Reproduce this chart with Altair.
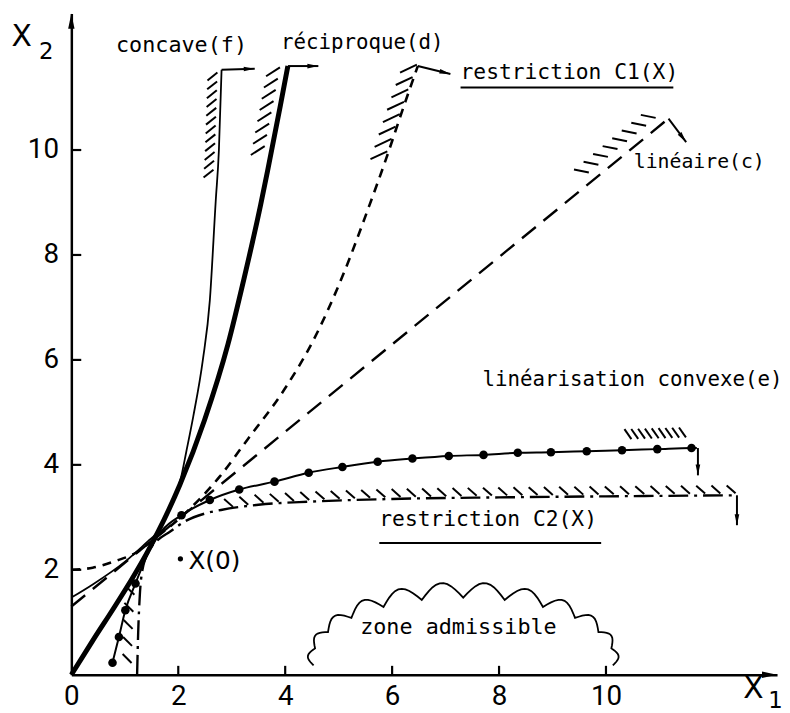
import altair as alt
import numpy as np
import pandas as pd

# ---------------- axes ----------------
x_ticks = [0, 2, 4, 6, 8, 10]
y_ticks = [2, 4, 6, 8, 10]
X_MAX, Y_MAX = 13.2, 12.6
W, H = 713, 668
PX, PY = W / X_MAX, H / Y_MAX
FONT = "DejaVu Sans"
MONO = "DejaVu Sans Mono"
TICKFONT = "Roboto"

# ---------------- curves ----------------
# concave (f) : thin solid
f_x = [0, 0.40, 1.01, 1.44, 1.57, 1.85, 2.05, 2.15, 2.28, 2.46, 2.59, 2.70, 2.76, 2.81]
f_y = [1.47, 1.72, 2.16, 2.55, 2.67, 3.2, 3.75, 4.25, 4.92, 6.0, 7.13, 9.02, 10.0, 11.53]
# réciproque (d) : thick solid
d_x = [0, 0.4, 0.83, 1.13, 1.44, 1.63, 2.03, 2.49, 2.93, 3.23, 3.54, 3.67, 3.91, 4.05]
d_y = [0, 0.65, 1.33, 1.82, 2.37, 2.74, 3.62, 4.85, 6.3, 7.55, 8.95, 9.6, 10.85, 11.6]
# restriction C1(X) : short dashes
c1_x = [0, 0.4, 0.83, 1.2, 1.5, 2.1, 2.77, 3.3, 3.98, 4.53, 5.09, 5.58, 5.89, 6.2, 6.48]
c1_y = [2.0, 2.04, 2.17, 2.32, 2.55, 3.05, 3.77, 4.49, 5.43, 6.38, 7.64, 8.96, 9.84, 10.78, 11.6]
# linéaire (c) : long dashes
c_x = [0, 11.17]
c_y = [1.3, 10.6]
# linéarisation convexe (e) : solid with dots
e_x = [0.77, 0.89, 1.01, 1.2, 1.45, 1.7, 2.06, 2.59, 3.14, 3.8, 4.44, 5.07, 5.73, 6.38,
       7.06, 7.71, 8.35, 8.97, 9.64, 10.3, 10.96, 11.6, 11.7]
e_y = [0.23, 0.72, 1.23, 1.74, 2.35, 2.75, 3.04, 3.33, 3.53, 3.68, 3.85, 3.96, 4.06, 4.12,
       4.17, 4.19, 4.23, 4.24, 4.26, 4.28, 4.3, 4.32, 4.32]
e_dot = [1, 1, 1, 1, 0, 0, 1, 1, 1, 1, 1, 1, 1, 1, 1, 1, 1, 1, 1, 1, 1, 1, 0]
# restriction C2(X) : dash-dot
c2_x = [1.23, 1.25, 1.28, 1.33, 1.45, 1.6, 1.85, 2.12, 2.49, 2.8, 3.5, 4.5, 6.0, 8.0, 10.0, 12.45]
c2_y = [0, 0.8, 1.5, 2.0, 2.35, 2.55, 2.73, 2.92, 3.07, 3.14, 3.24, 3.3, 3.35, 3.38, 3.4, 3.42]

# starting point X(0)
x0_x, x0_y = [2.04], [2.21]

# arrows (start -> end), data units
arr_x0 = [2.81, 4.05, 6.48, 11.17, 11.72, 12.45, 0, 0]
arr_y0 = [11.53, 11.6, 11.6, 10.6, 4.32, 3.42, 0, 0]
arr_x1 = [3.43, 4.62, 7.09, 11.5, 11.72, 12.45, 13.2, 0]
arr_y1 = [11.55, 11.6, 11.45, 10.15, 3.8, 2.85, 0, 12.6]
arr_size = [170, 170, 170, 170, 170, 170, 320, 320]

# text annotations
txt = ["concave(f)", "réciproque(d)", "restriction C1(X)", "linéaire(c)",
       "linéarisation convexe(e)", "restriction C2(X)", "zone admissible",
       "X(0)", "X", "2", "X", "1"]
txt_x = [2.06, 5.44, 7.28, 10.52, 7.69, 5.76, 7.24, 2.19, -0.93, -0.47, 12.76, 13.17]
txt_y = [12.0, 12.04, 11.47, 9.77, 5.62, 2.94, 0.91, 2.17, 12.15, 11.87, -0.27, -0.5]
txt_align = ["center", "center", "left", "left", "left", "left", "center",
             "left", "center", "center", "center", "center"]
txt_size = [22, 21, 21.5, 20, 21, 21.5, 22, 25, 30, 23, 30, 23]
txt_font = [MONO] * 7 + [FONT] * 5

# underlines of the two restrictions
ul_x = [7.28, 5.76]
ul_x2 = [11.26, 9.91]
ul_y = [11.19, 2.51]


# ---------------- helpers ----------------
def curve_df(xs, ys):
    return pd.DataFrame({"x": xs, "y": ys, "o": np.arange(len(xs))})


def hatch(xs, ys, lo, hi, n, off, vec, along="y"):
    t = np.linspace(lo, hi, n)
    if along == "y":
        cy, cx = t, np.interp(t, ys, xs)
    else:
        cx, cy = t, np.interp(t, xs, ys)
    x1 = cx + off[0] / PX
    y1 = cy - off[1] / PY
    x2 = x1 + vec[0] / PX
    y2 = y1 - vec[1] / PY
    return pd.DataFrame({"x": x1, "y": y1, "x2": x2, "y2": y2})


hatches = pd.concat([
    hatch(f_x, f_y, 9.55, 11.4, 12, (-14, 4), (10, -8)),
    hatch(d_x, d_y, 10.0, 11.5, 8, (-21, 5), (14, -9)),
    hatch(c1_x, c1_y, 9.9, 11.55, 8, (-17, 4), (17, -8)),
    hatch(c_x, c_y, 9.55, 10.8, 8, (-8, -20), (15, 3), along="x"),
    hatch(e_x, e_y, 10.42, 11.44, 9, (-4, -21), (7, 10), along="x"),
    hatch(c2_x, c2_y, 2.95, 12.35, 34, (-5, -10), (9, 8), along="x"),
    hatch(c2_x, c2_y, 0.3, 1.6, 5, (-15, -5), (9, 9)),
], ignore_index=True)

# tick marks pointing inward
ticks = pd.concat([
    pd.DataFrame({"x": [t for t in x_ticks if t > 0], "y": 0.0,
                  "x2": [t for t in x_ticks if t > 0], "y2": 9 / PY}),
    pd.DataFrame({"x": 0.0, "y": y_ticks, "x2": 10 / PX, "y2": y_ticks}),
], ignore_index=True)

arrows = pd.DataFrame({"x": arr_x0, "y": arr_y0, "x2": arr_x1, "y2": arr_y1, "s": arr_size})
dxs = (arrows.x2 - arrows.x) * PX
dys = -(arrows.y2 - arrows.y) * PY
arrows["ang"] = (np.degrees(np.arctan2(dxs, -dys)) + 360) % 360
shafts = arrows.iloc[:6]

# cloud outline ("zone admissible")
cx0, cy0 = 7.33, 0.30           # centre (data)
ax_, bx_ = 152.0, 62.0          # half axes in px
th = np.radians(np.linspace(186, -6, 13))
bx = ax_ * np.cos(th)
by = bx_ * np.sin(th)
pts = []
for k in range(len(th) - 1):
    p, q = np.array([bx[k], by[k]]), np.array([bx[k + 1], by[k + 1]])
    ch = q - p
    nrm = np.array([-ch[1], ch[0]])
    nrm = nrm / np.linalg.norm(nrm)
    mid = (p + q) / 2
    if np.dot(nrm, mid) < 0:
        nrm = -nrm
    h = 0.38 * np.linalg.norm(ch)
    for s in np.linspace(0, 1, 12)[:-1]:
        pts.append(p + s * ch + nrm * h * np.sin(np.pi * s))
pts.append(np.array([bx[-1], by[-1]]))
pts = np.array(pts)
cloud = pd.DataFrame({"x": cx0 + pts[:, 0] / PX, "y": cy0 + pts[:, 1] / PY,
                      "o": np.arange(len(pts))})

# ---------------- chart ----------------
xs = alt.Scale(domain=[0, X_MAX], nice=False, zero=False)
ys = alt.Scale(domain=[0, Y_MAX], nice=False, zero=False)
xax = alt.Axis(values=x_ticks, ticks=False, grid=False, title=None, domainColor="black",
               domainWidth=2.5, labelFont=TICKFONT, labelFontSize=28, labelColor="black",
               labelPadding=8, labelFlush=False, format="d")
yax = alt.Axis(values=y_ticks, ticks=False, grid=False, title=None, domainColor="black",
               domainWidth=2.5, labelFont=TICKFONT, labelFontSize=28, labelColor="black",
               labelPadding=13, format="d")

X = lambda f="x": alt.X(f"{f}:Q", scale=xs, axis=xax)
Y = lambda f="y": alt.Y(f"{f}:Q", scale=ys, axis=yax)


def line(xs_, ys_, **kw):
    return alt.Chart(curve_df(xs_, ys_)).mark_line(color="black", **kw).encode(
        x=X(), y=Y(), order="o:Q")


txt_df = pd.DataFrame({"t": txt, "x": txt_x, "y": txt_y, "a": txt_align,
                       "fs": txt_size, "fn": txt_font})


def text_layer(al, fn):
    return alt.Chart(txt_df[(txt_df.a == al) & (txt_df.fn == fn)]).mark_text(
        font=fn, color="black", baseline="middle", align=al).encode(
        x=X(), y=Y(), text="t:N", size=alt.Size("fs:Q", scale=None))


layers = [
    alt.Chart(ticks).mark_rule(color="black", strokeWidth=2.2).encode(
        x=X(), y=Y(), x2="x2:Q", y2="y2:Q"),
    line(c_x, c_y, strokeWidth=2.4, strokeDash=[18, 10]),
    line(c1_x, c1_y, strokeWidth=2.6, strokeDash=[9, 7], interpolate="monotone"),
    line(c2_x, c2_y, strokeWidth=2.4, strokeDash=[20, 6, 3, 6], interpolate="monotone"),
    line(e_x, e_y, strokeWidth=2.0, interpolate="monotone"),
    line(f_x, f_y, strokeWidth=1.8, interpolate="monotone"),
    line(d_x, d_y, strokeWidth=5, interpolate="monotone"),
    alt.Chart(curve_df(e_x, e_y).assign(d=e_dot)).transform_filter("datum.d == 1")
    .mark_circle(color="black", size=75, opacity=1).encode(x=X(), y=Y()),
    alt.Chart(curve_df(x0_x, x0_y)).mark_circle(color="black", size=28, opacity=1).encode(
        x=X(), y=Y()),
    alt.Chart(hatches).mark_rule(color="black", strokeWidth=2).encode(
        x=X(), y=Y(), x2="x2:Q", y2="y2:Q"),
    alt.Chart(shafts).mark_rule(color="black", strokeWidth=2).encode(
        x=X(), y=Y(), x2="x2:Q", y2="y2:Q"),
    alt.Chart(arrows).mark_point(shape="M0,0L-0.36,1.7L0.36,1.7Z", filled=True,
                                 color="black", opacity=1).encode(
        x=X("x2"), y=Y("y2"), angle=alt.Angle("ang:Q", scale=None),
        size=alt.Size("s:Q", scale=None)),
    alt.Chart(pd.DataFrame({"x": ul_x, "x2": ul_x2, "y": ul_y})).mark_rule(
        color="black", strokeWidth=2).encode(x=X(), x2="x2:Q", y=Y()),
    alt.Chart(cloud).mark_line(color="black", strokeWidth=1.8, interpolate="linear").encode(
        x=X(), y=Y(), order="o:Q"),
    text_layer("center", MONO),
    text_layer("left", MONO),
    text_layer("center", FONT),
    text_layer("left", FONT),
]

chart = alt.layer(*layers).properties(
    width=W, height=H,
    padding={"left": 64, "top": 2, "right": 5, "bottom": 35},
    autosize=alt.AutoSizeParams(type="none"),
).configure_view(stroke=None)

chart.save("out.html", embed_options={"renderer": "svg", "actions": False})
